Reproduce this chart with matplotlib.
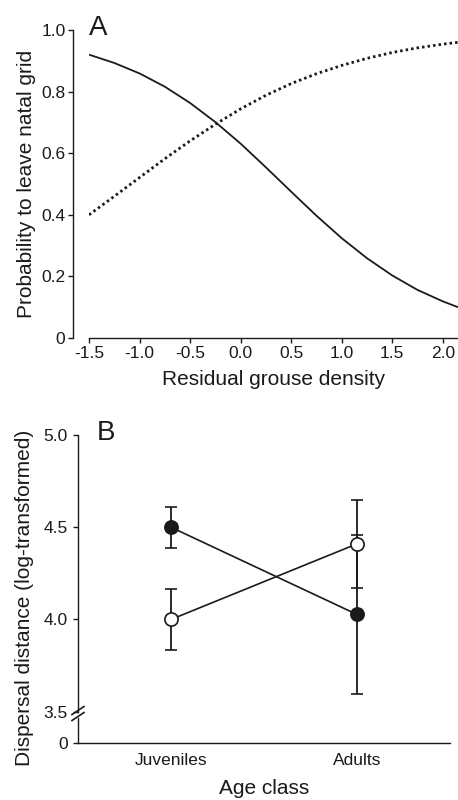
import matplotlib.pyplot as plt
from matplotlib.lines import Line2D

plt.rcParams["font.family"] = ["Liberation Sans", "DejaVu Sans"]

# Panel A: probability to leave natal grid
density = [-1.5, -1.25, -1.0, -0.75, -0.5, -0.25, 0.0, 0.25, 0.5, 0.75,
           1.0, 1.25, 1.5, 1.75, 2.0, 2.15]
prob_solid = [0.920, 0.893, 0.859, 0.816, 0.763, 0.701, 0.631, 0.554, 0.475,
              0.397, 0.324, 0.259, 0.203, 0.156, 0.119, 0.100]
prob_dotted = [0.400, 0.460, 0.521, 0.582, 0.640, 0.694, 0.744, 0.788, 0.826,
               0.858, 0.885, 0.908, 0.927, 0.942, 0.954, 0.960]
x_ticks_a = [-1.5, -1.0, -0.5, 0.0, 0.5, 1.0, 1.5, 2.0]
y_ticks_a = [0, 0.2, 0.4, 0.6, 0.8, 1.0]
y_labels_a = ["0", "0.2", "0.4", "0.6", "0.8", "1.0"]

# Panel B: dispersal distance by age class (mean +/- error)
age_classes = ["Juveniles", "Adults"]
filled_mean = [4.50, 4.027]
filled_err = [0.11, 0.43]
open_mean = [4.0, 4.41]
open_err = [0.167, 0.24]
y_ticks_b = [3.5, 4.0, 4.5, 5.0]

INK = "#1a1a1a"
W, H = 458, 800


def px_box(left, top, right, bottom):
    return [left / W, 1 - bottom / H, (right - left) / W, (bottom - top) / H]


def style_axis(ax, pad=2.5):
    for side in ["top", "right"]:
        ax.spines[side].set_visible(False)
    for side in ["left", "bottom"]:
        ax.spines[side].set_linewidth(1.0)
        ax.spines[side].set_color(INK)
    ax.tick_params(direction="out", length=3.5, width=1.0, color=INK,
                   labelsize=12.5, labelcolor=INK, pad=pad)


fig = plt.figure(figsize=(W / 100, H / 100), dpi=100)

# ---- panel A ----
ax_a = fig.add_axes(px_box(89, 30, 458, 338))
style_axis(ax_a, pad=2.0)
ax_a.spines["left"].set_position(("outward", 11.5))
ax_a.plot(density, prob_solid, color=INK, lw=1.3, solid_capstyle="butt")
ax_a.plot(density, prob_dotted, color=INK, lw=2.0, linestyle=(0, (0.9, 1.1)))
ax_a.set_xlim(-1.5, 2.15)
ax_a.set_ylim(0, 1.0)
ax_a.set_xticks(x_ticks_a)
ax_a.set_xticklabels([f"{v:.1f}" for v in x_ticks_a])
ax_a.set_yticks(y_ticks_a)
ax_a.set_yticklabels(y_labels_a)
ax_a.set_xlabel("Residual grouse density", fontsize=15, color=INK, labelpad=7)
ax_a.set_ylabel("Probability to leave natal grid", fontsize=15, color=INK, labelpad=4)
fig.text(89 / W, 1 - 35 / H, "A", fontsize=20, color=INK, va="baseline")

# ---- panel B (broken y axis) ----
ax_b = fig.add_axes(px_box(78, 435, 450, 711.7))
style_axis(ax_b, pad=4.0)
ax_b.spines["bottom"].set_visible(False)
ax_b.set_xlim(-0.5, 1.5)
ax_b.set_ylim(3.5, 5.0)
ax_b.set_yticks(y_ticks_b)
ax_b.set_yticklabels([f"{v:.1f}" for v in y_ticks_b])
ax_b.set_xticks([])

x_pos = list(range(len(age_classes)))
ax_b.errorbar(x_pos, filled_mean, yerr=filled_err, fmt="-o", color=INK,
              mfc=INK, mec=INK, ms=9.5, mew=1.2, lw=1.2, elinewidth=1.3,
              capsize=4.5, capthick=1.3, clip_on=False, zorder=3)
ax_b.errorbar(x_pos, open_mean, yerr=open_err, fmt="-o", color=INK,
              mfc="white", mec=INK, ms=9.5, mew=1.2, lw=1.2, elinewidth=1.3,
              capsize=4.5, capthick=1.3, clip_on=False, zorder=4)

ax_b0 = fig.add_axes(px_box(78, 718, 450, 743.3))
style_axis(ax_b0, pad=4.0)
ax_b0.set_xlim(-0.5, 1.5)
ax_b0.set_ylim(0, 1)
ax_b0.set_yticks([0])
ax_b0.set_yticklabels(["0"])
ax_b0.set_xticks(x_pos)
ax_b0.set_xticklabels(age_classes)
ax_b0.tick_params(axis="x", length=0, pad=7)
ax_b0.patch.set_alpha(0)
ax_b0.set_xlabel("Age class", fontsize=15, color=INK, labelpad=8)

fig.text(25 / W, 1 - 598 / H, "Dispersal distance (log-transformed)", fontsize=15,
         color=INK, rotation=90, ha="center", va="center")
fig.text(97 / W, 1 - 440 / H, "B", fontsize=20, color=INK, va="baseline")

# break marks on the left spine
for yc in (710.5, 716.5):
    fig.add_artist(Line2D([(78 - 6) / W, (78 + 6) / W],
                          [1 - (yc + 4) / H, 1 - (yc - 4) / H],
                          transform=fig.transFigure, color=INK, lw=1.2))

fig.savefig("out.png", dpi=100)
